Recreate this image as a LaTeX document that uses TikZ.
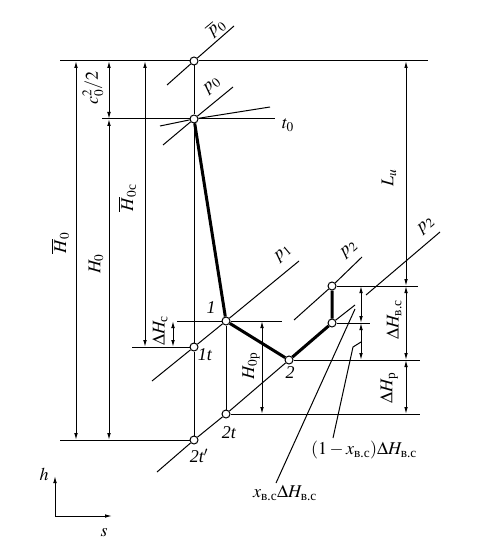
\documentclass[tikz,border=0pt]{standalone}
\usepackage{amsmath}
\usepackage{mathptmx}
\usepackage{fontspec}
\setmainfont{Liberation Serif}
\newfontfamily\cyr{Liberation Serif}
\usetikzlibrary{arrows.meta}
\newcommand{\subvc}{\text{\cyr в.с}}
\newcommand{\subcc}{\text{\cyr с}}
\newcommand{\subrr}{\text{\cyr р}}
\tikzset{
  pt/.style={circle,draw,fill=white,inner sep=0pt,minimum size=8pt,line width=1pt},
  ln/.style={line width=1pt},
  proc/.style={line width=3pt},
  dim/.style={line width=1pt,{Latex[length=7pt,width=3.6pt]}-{Latex[length=7pt,width=3.6pt]}},
  lbl/.style={inner sep=0pt},
  vlbl/.style={inner sep=0pt,rotate=90},
  plbl/.style={inner sep=0pt,rotate=40}
}
\begin{document}
\begin{tikzpicture}[x=1pt,y=-1pt,font=\fontsize{18}{21}\selectfont]
\useasboundingbox (0,0) rectangle (478,556);
% state points
\node[pt] (P0b) at (194,61) {};
\node[pt] (P0) at (194,119) {};
\node[pt] (P1t) at (194,347) {};
\node[pt] (P2tp) at (194,440) {};
\node[pt] (P1) at (226,321) {};
\node[pt] (P2t) at (226,414) {};
\node[pt] (P2) at (289,360) {};
\node[pt] (PA) at (332,323) {};
\node[pt] (PB) at (332,286) {};
% free ends
\coordinate (top0) at (60,61);   \coordinate (top1) at (428,61);
\coordinate (bot0) at (60,440);
\coordinate (h1t) at (132,347);
\coordinate (h1a) at (177,321);  \coordinate (h1b) at (282,321);
\coordinate (h2t) at (420,414);
\coordinate (h2) at (420,360);
\coordinate (hB) at (418,286);
\coordinate (hA) at (370,323);
\coordinate (h0a) at (102,119);  \coordinate (h0b) at (275,119);
\coordinate (ib0a) at (167,85);  \coordinate (ib0b) at (234,26);
\coordinate (i0a) at (163,145);  \coordinate (i0b) at (233,87);
\coordinate (t0a) at (160,126);  \coordinate (t0b) at (270,107);
\coordinate (i1a) at (152,381);  \coordinate (i1b) at (299,261);
\coordinate (i2a) at (157,472);  \coordinate (i2b) at (355,305);
\coordinate (i2ua) at (294,320); \coordinate (i2ub) at (362,257);
\coordinate (i2ra) at (366,295); \coordinate (i2rb) at (440,232);
% horizontal extension lines
\draw[ln] (top0) -- (P0b) -- (top1);
\draw[ln] (bot0) -- (P2tp);
\draw[ln] (h1t) -- (P1t);
\draw[ln] (h1a) -- (P1) -- (h1b);
\draw[ln] (P2t) -- (h2t);
\draw[ln] (P2) -- (h2);
\draw[ln] (PB) -- (hB);
\draw[ln] (PA) -- (hA);
\draw[ln] (h0a) -- (P0) -- (h0b);
% verticals
\draw[ln] (P0b) -- (P0) -- (P1t) -- (P2tp);
\draw[ln] (P1) -- (P2t);
% isobars and isotherm
\draw[ln] (ib0a) -- (P0b) -- (ib0b);
\draw[ln] (i0a) -- (P0) -- (i0b);
\draw[ln] (t0a) -- (P0) -- (t0b);
\draw[ln] (i1a) -- (P1t) -- (P1) -- (i1b);
\draw[ln] (i2a) -- (P2tp) -- (P2t) -- (P2);
\draw[ln] (PA) -- (i2b);
\draw[ln] (i2ua) -- (PB) -- (i2ub);
\draw[ln] (i2ra) -- (i2rb);
% process lines
\draw[proc] (P0) -- (P1) -- (P2) -- (PA) -- (PB);
% dimensions
\draw[dim] (76,61) -- (76,440);
\draw[dim] (109,61) -- (109,119);
\draw[dim] (109,119) -- (109,440);
\draw[dim] (145,61) -- (145,347);
\draw[dim] (173,321) -- (173,347);
\draw[dim] (262,321) -- (262,414);
\draw[dim] (406,61) -- (406,286);
\draw[dim] (406,286) -- (406,360);
\draw[dim] (406,360) -- (406,414);
\draw[dim] (361,286) -- (361,323);
\draw[dim] (361,323) -- (361,360);
% leader lines
\node[lbl] (L1x) at (364,450) {$(1-x_{\subvc})\Delta H_{\subvc}$};
\node[lbl] (Lx) at (285,493) {$x_{\subvc}\Delta H_{\subvc}$};
\coordinate (k1s) at (333,438);
\coordinate (k1) at (353,347); \coordinate (k1e) at (361,342);
\coordinate (k2s) at (276,483);
\coordinate (k2e) at (355,309);
\draw[ln] (k1s) -- (k1) -- (k1e);
\draw[ln] (k2s) -- (k2e);
% axes
\coordinate (O) at (55,516);
\coordinate (Oh) at (55,476);
\coordinate (Os) at (112,516);
\draw[ln,-{Latex[length=7pt,width=3.6pt]}] (O) -- (Oh);
\draw[ln,-{Latex[length=7pt,width=3.6pt]}] (O) -- (Os);
\node[lbl] (lh) at (44,474) {$h$};
\node[lbl] (ls) at (104,533) {$s$};
% point labels
\node[lbl] (l1) at (211,308) {\textit{1}};
\node[lbl] (l1t) at (205,355) {\textit{1t}};
\node[lbl] (l2t) at (229,433) {\textit{2t}};
\node[lbl] (l2tp) at (199,456) {\textit{2t$'$}};
\node[lbl] (l2) at (290,373) {\textit{2}};
\node[lbl] (lt0) at (288,125) {$t_0$};
% isobar labels
\node[plbl] (lpb0) at (216,28) {$\overline{p}_0$};
\node[plbl] (lp0) at (212,86) {$p_0$};
\node[plbl] (lp1) at (283,254) {$p_1$};
\node[plbl] (lp2u) at (349,250) {$p_2$};
\node[plbl] (lp2r) at (426,226) {$p_2$};
% dimension labels
\node[vlbl] at (60,243) {$\overline{H}_0$};
\node[vlbl] at (96,264) {$H_0$};
\node[vlbl] at (93,88) {$c_0^2/2$};
\node[vlbl] at (127,198) {$\overline{H}_{0\subcc}$};
\node[vlbl] at (160,331) {$\Delta H_{\subcc}$};
\node[vlbl] at (251,366) {$H_{0\subrr}$};
\node[vlbl] at (389,178) {$L_u$};
\node[vlbl] at (394,320) {$\Delta H_{\subvc}$};
\node[vlbl] at (389,388) {$\Delta H_{\subrr}$};
\end{tikzpicture}
\end{document}
